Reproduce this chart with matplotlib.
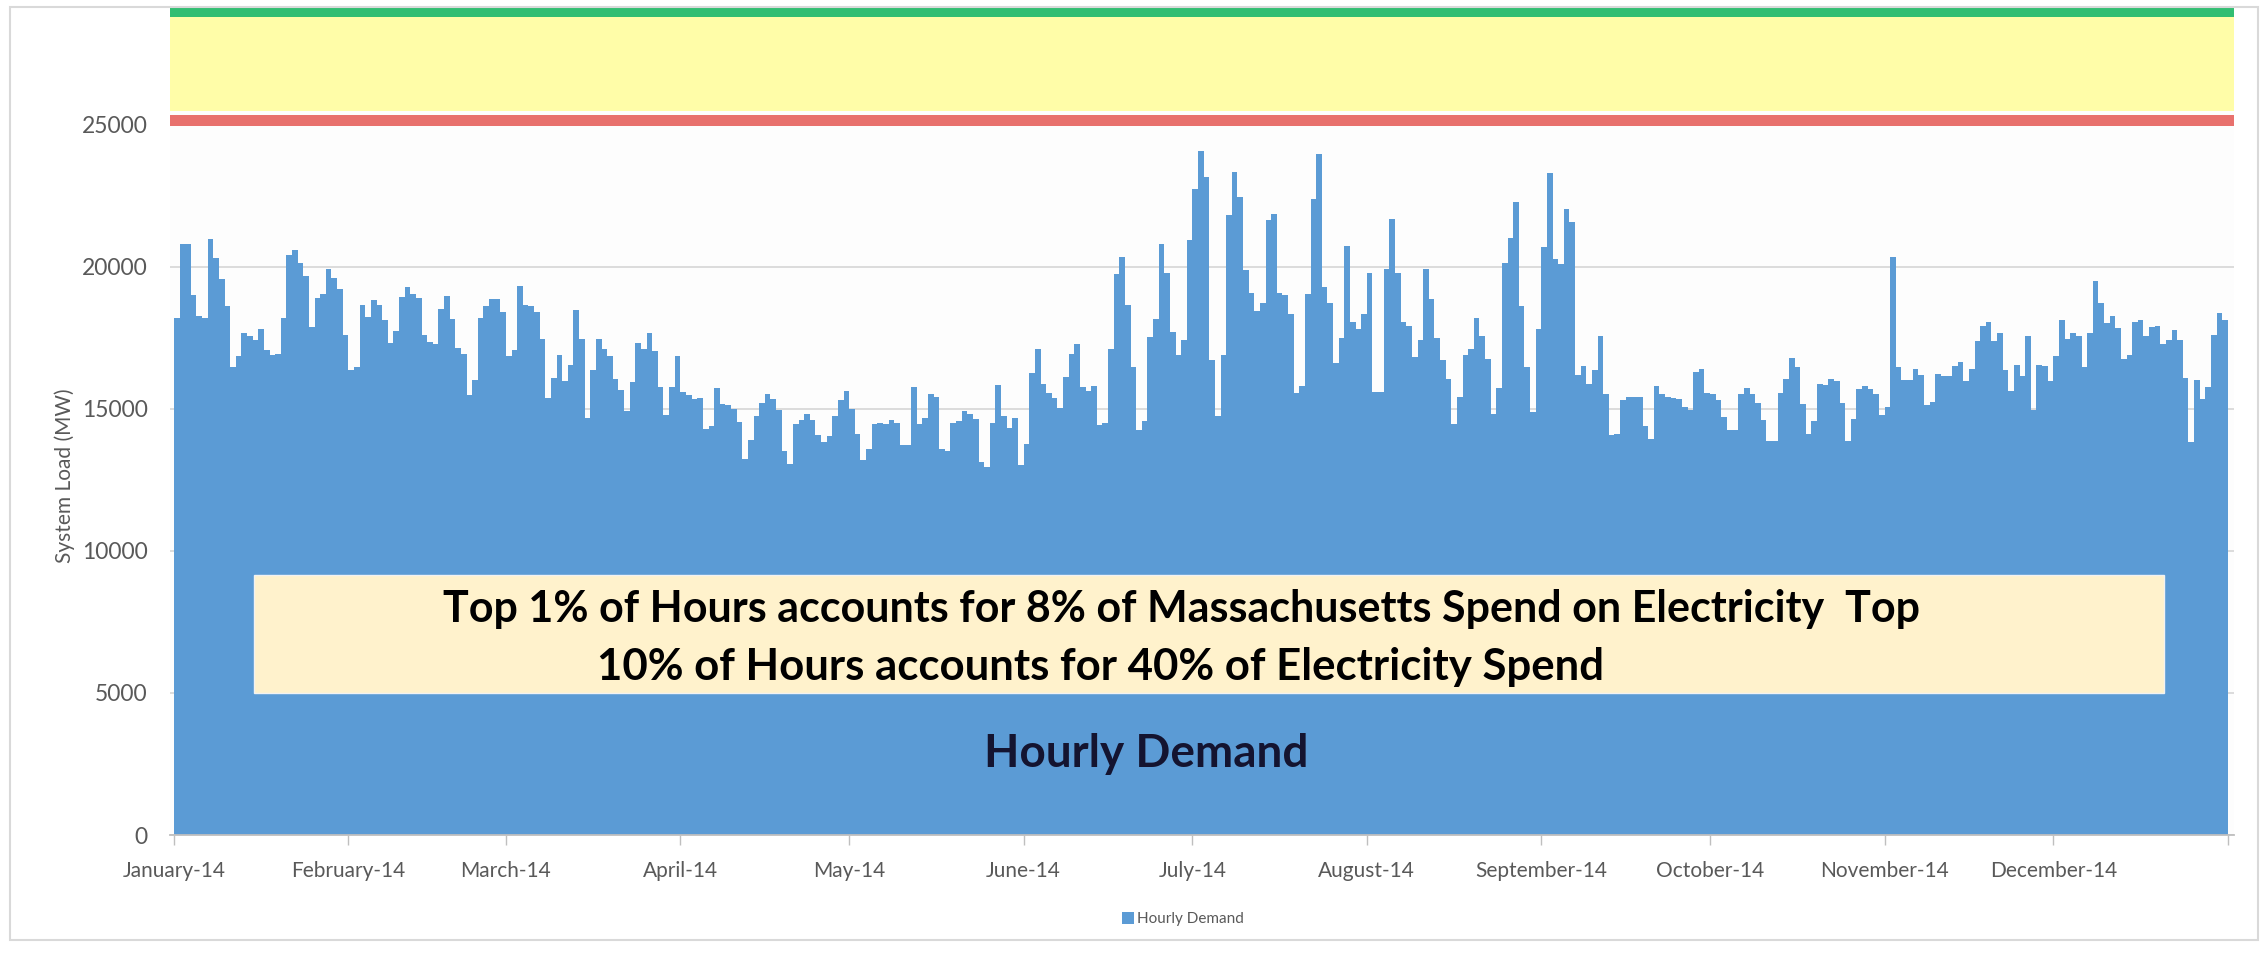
import matplotlib.pyplot as plt
from matplotlib.patches import Rectangle
import numpy as np

# daily peak system load (MW), one list per month
jan = [18200, 20820, 20820, 19000, 18260, 18200, 20970, 20320, 19560, 18630,
       16480, 16850, 17680, 17560, 17420, 17830, 17060, 16910, 16950, 18200,
       20410, 20590, 20140, 19680, 17890, 18910, 19060, 19940, 19620, 19230, 17590]
feb = [16360, 16480, 18670, 18240, 18850, 18670, 18120, 17320, 17740, 18940,
       19290, 19060, 18910, 17590, 17360, 17280, 18530, 18980, 18160, 17150,
       16950, 15480, 16030, 18200, 18630, 18880, 18860, 18410]
mar = [16860, 17060, 19330, 18670, 18630, 18410, 17450, 15390, 16100, 16890,
       15970, 16560, 18470, 17450, 14680, 16380, 17450, 17120, 16850, 16070,
       15680, 14920, 15950, 17320, 17120, 17690, 17030, 15770, 14780, 15770, 16850]
apr = [15600, 15500, 15360, 15390, 14310, 14390, 15740, 15190, 15130, 15010,
       14540, 13250, 13900, 14740, 15210, 15540, 15360, 14950, 13510, 13070,
       14460, 14600, 14810, 14600, 14090, 13840, 14040, 14740, 15330, 15620]
may = [15010, 14130, 13190, 13600, 14480, 14500, 14480, 14600, 14500, 13740,
       13720, 15770, 14480, 14690, 15540, 15440, 13580, 13510, 14500, 14560,
       14930, 14810, 14660, 13130, 12950, 14500, 15850, 14750, 14340, 14690, 13040]
jun = [13750, 16280, 17120, 15870, 15560, 15390, 15050, 16130, 16950, 17280,
       15770, 15650, 15810, 14420, 14500, 17120, 19760, 20350, 18670, 16480,
       14250, 14570, 17530, 18160, 20820, 19800, 17710, 16890, 17420, 20940]
jul = [22760, 24070, 23170, 16710, 14740, 16890, 21820, 23340, 22460, 19880,
       19090, 18450, 18730, 21640, 21850, 19090, 19000, 18350, 15560, 15810,
       19060, 22380, 23970, 19290, 18730, 16630, 17500, 20740, 18060, 17800, 18350]
aug = [19800, 15600, 15600, 19940, 21680, 19800, 18060, 17920, 16830, 17420,
       19940, 18860, 17500, 16710, 16070, 14480, 15440, 16890, 17120, 18200,
       17560, 16770, 14810, 15740, 20140, 21030, 22290, 18630, 16480, 14890, 17800]
sep = [20700, 23320, 20290, 20090, 22050, 21580, 16190, 16510, 15890, 16380,
       17560, 15540, 14070, 14130, 15300, 15440, 15420, 15440, 14390, 13930,
       15810, 15540, 15440, 15400, 15350, 15070, 14970, 16300, 16420, 15560]
oct_ = [15520, 15330, 14720, 14270, 14250, 15540, 15740, 15540, 15210, 14600,
        13870, 13870, 15570, 16070, 16800, 16480, 15160, 14110, 14560, 15870,
        15830, 16040, 15980, 15210, 13870, 14660, 15720, 15810, 15720, 15540, 14780]
nov = [15070, 20350, 16480, 16030, 16030, 16420, 16190, 15130, 15240, 16240,
       16150, 16150, 16510, 16650, 15970, 16420, 17380, 17920, 18060, 17380,
       17690, 16380, 15650, 16540, 16150, 17560, 14970, 16560, 16510, 15970]
dec = [16850, 18120, 17470, 17680, 17560, 16480, 17690, 19510, 18730, 18040,
       18260, 17850, 16770, 16890, 18060, 18120, 17570, 17890, 17920, 17280,
       17420, 17790, 17420, 16090, 13840, 16030, 15340, 15770, 17590, 18390, 18120]

month_labels = ['January-14', 'February-14', 'March-14', 'April-14', 'May-14', 'June-14',
                'July-14', 'August-14', 'September-14', 'October-14', 'November-14',
                'December-14']
y_ticks = [0, 5000, 10000, 15000, 20000, 25000]

months = [jan, feb, mar, apr, may, jun, jul, aug, sep, oct_, nov, dec]
demand = sum(months, [])
days = np.arange(len(demand))
month_starts = np.cumsum([0] + [len(m) for m in months[:-1]])

plt.rcParams['font.family'] = ['Lato', 'DejaVu Sans']

W, H = 2262, 959
fig = plt.figure(figsize=(W / 100, H / 100), dpi=100)
fig.patch.set_facecolor('white')

# outer chart frame
fig.patches.append(Rectangle((10 / W, 1 - 940 / H), 2248 / W, 933 / H,
                             transform=fig.transFigure, fill=False,
                             edgecolor='#D9D9D9', linewidth=1.5))

ax = fig.add_axes([170 / W, 1 - 835 / H, 2064 / W, 829 / H])
ax.set_facecolor('#FDFDFD')

# threshold bands at the top
ax.axhspan(28800, 29190, color='#32BE72', zorder=1, linewidth=0)
ax.axhspan(25490, 28800, color='#FFFDA8', zorder=1, linewidth=0)
ax.axhspan(24960, 25350, color='#E8716D', zorder=3, linewidth=0)

ax.bar(days, demand, width=1.0, color='#5B9BD5', linewidth=0, zorder=2,
       label='Hourly Demand')

ax.set_xlim(-1.2, 365.6)
ax.set_ylim(0, 29190)

ax.set_yticks(y_ticks)
ax.set_yticklabels([str(v) for v in y_ticks])
ax.yaxis.grid(True, color='#D9D9D9', linewidth=1.3, zorder=0)
ax.set_axisbelow(True)
ax.tick_params(axis='y', length=0, pad=16, labelsize=16.5, labelcolor='#595959')

ax.set_xticks(list(month_starts - 0.5) + [len(demand) - 0.5])
ax.set_xticklabels(month_labels + [''])
ax.tick_params(axis='x', length=7, width=1, color='#BFBFBF', pad=12,
               labelsize=15, labelcolor='#595959')

for s in ['top', 'right', 'left']:
    ax.spines[s].set_visible(False)
ax.spines['bottom'].set_color('#BFBFBF')
ax.spines['bottom'].set_linewidth(1.3)

fig.text(65 / W, 1 - 476 / H, 'System Load (MW)', rotation=90, ha='center',
         va='center', fontsize=15, color='#595959')

# annotation box
ax.add_patch(Rectangle((0.0407, 0.1713), 0.9254, 0.1423, transform=ax.transAxes,
                       facecolor='#FFF2CC', edgecolor='#F2F2F2', linewidth=1, zorder=4))
ax.text(0.4903, 0.2569, 'Top 1% of Hours accounts for 8% of Massachusetts Spend on Electricity  Top',
        transform=ax.transAxes, ha='center', va='baseline', fontsize=31,
        fontweight='bold', color='black', zorder=5)
ax.text(0.4506, 0.1870, '10% of Hours accounts for 40% of Electricity Spend',
        transform=ax.transAxes, ha='center', va='baseline', fontsize=31.5,
        fontweight='bold', color='black', zorder=5)
ax.text(0.4729, 0.0820, 'Hourly Demand', transform=ax.transAxes, ha='center',
        va='baseline', fontsize=33, fontweight='bold', color='#141430', zorder=5)

fig.legend(loc='center', bbox_to_anchor=(1183 / W, 1 - 919 / H), frameon=False,
           fontsize=11, labelcolor='#595959', handlelength=0.8, handleheight=0.8,
           handletextpad=0.2)

fig.savefig('out.png', dpi=100)
